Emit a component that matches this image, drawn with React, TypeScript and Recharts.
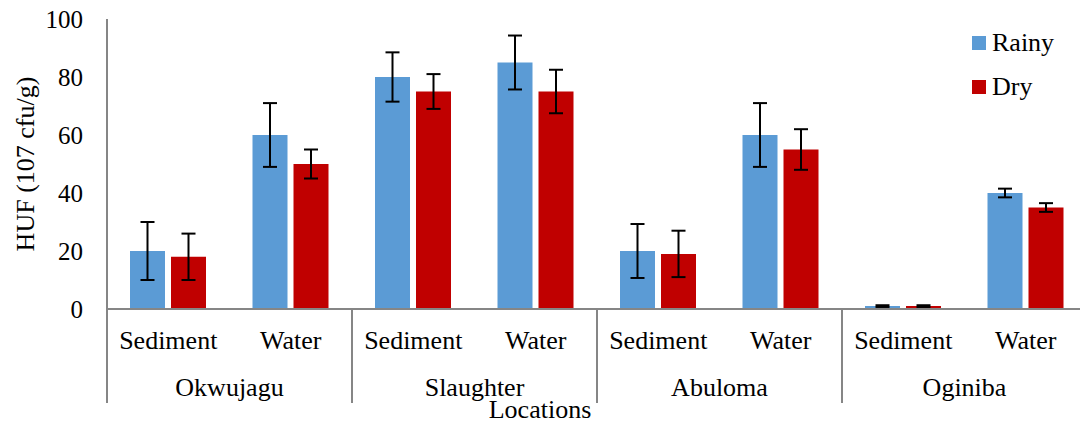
import { BarChart, Bar, XAxis, YAxis, ErrorBar, Label } from "recharts";

const samples = ["Sediment", "Water", "Sediment", "Water", "Sediment", "Water", "Sediment", "Water"];
const locations = ["Okwujagu", "Okwujagu", "Slaughter", "Slaughter", "Abuloma", "Abuloma", "Oginiba", "Oginiba"];
const rainy = [20, 60, 80, 85, 20, 60, 1, 40];
const rainyErr = [10, 11, 8.5, 9.3, 9.3, 11, 0.3, 1.5];
const dry = [18, 50, 75, 75, 19, 55, 1, 35];
const dryErr = [8, 5, 6, 7.5, 8, 7, 0.3, 1.5];
const yTicks = [0, 20, 40, 60, 80, 100];
const series = [
	{ key: "rainy", err: "rainyErr", name: "Rainy", color: "#5B9BD5" },
	{ key: "dry", err: "dryErr", name: "Dry", color: "#C00000" },
];

const data = samples.map((s, i) => ({
	sample: s,
	location: locations[i],
	rainy: rainy[i],
	rainyErr: rainyErr[i],
	dry: dry[i],
	dryErr: dryErr[i],
}));

const FONT = "'Times New Roman', 'Liberation Serif', 'DejaVu Serif', serif";
const W = 1100;
const H = 424;
const MARGIN = { top: 19, right: 13, left: 0, bottom: 0 };
const Y_W = 107;
const BAND = (W - MARGIN.left - MARGIN.right - Y_W) / samples.length;
const AXIS_Y = 309;
const SEP_END = 403;
const GRAY = "#868686";

const LocationTick = (props: any) => {
	const { x, y, payload } = props;
	if (payload.index % 2 !== 0) return null;
	const left = x - BAND / 2;
	return (
		<g>
			<line x1={left} x2={left} y1={AXIS_Y} y2={SEP_END} stroke={GRAY} strokeWidth={2} />
			<text x={x + BAND / 2} y={y} dy="0.71em" textAnchor="middle" style={{ fontFamily: FONT }} fontSize={26} fill="#000">
				{payload.value}
			</text>
		</g>
	);
};

const YTitle = () => {
	const cy = 164;
	return (
		<text
			x={25}
			y={cy}
			transform={`rotate(-90, 25, ${cy})`}
			textAnchor="middle"
			dominantBaseline="central"
			style={{ fontFamily: FONT }}
			fontSize={26}
			fill="#000"
		>
			HUF (107 cfu/g)
		</text>
	);
};

const XTitle = () => (
	<text x={540} y={418} textAnchor="middle" style={{ fontFamily: FONT }} fontSize={26} fill="#000">
		Locations
	</text>
);

export default function App() {
	return (
		<div
			style={{
				position: "fixed",
				left: 0,
				top: 0,
				width: 1080,
				height: 424,
				overflow: "hidden",
				background: "#fff",
				fontFamily: FONT,
			}}
		>
			<BarChart width={W} height={H} data={data} margin={MARGIN} barCategoryGap={23} barGap={6} style={{ fontFamily: FONT }}>
				<YAxis
					width={Y_W}
					domain={[0, 100]}
					ticks={yTicks}
					tickLine={false}
					tickSize={0}
					tickMargin={24}
					axisLine={{ stroke: GRAY, strokeWidth: 2 }}
					tick={{ style: { fontFamily: FONT }, fontSize: 25, fill: "#000" }}
				>
					<Label content={<YTitle />} />
				</YAxis>
				<XAxis
					dataKey="sample"
					interval={0}
					height={50}
					tickLine={false}
					tickSize={0}
					tickMargin={22}
					axisLine={{ stroke: GRAY, strokeWidth: 2 }}
					tick={{ style: { fontFamily: FONT }, fontSize: 26, fill: "#000" }}
				/>
				<XAxis
					xAxisId="loc"
					dataKey="location"
					interval={0}
					height={65}
					axisLine={false}
					tickLine={false}
					tickSize={0}
					tickMargin={19}
					tick={<LocationTick />}
				>
					<Label content={<XTitle />} />
				</XAxis>
				{series.map((s) => (
					<Bar key={s.key} dataKey={s.key} name={s.name} fill={s.color} isAnimationActive={false}>
						<ErrorBar dataKey={s.err} width={7} stroke="#000" strokeWidth={2} />
					</Bar>
				))}
			</BarChart>
			<div style={{ position: "absolute", left: 972, top: 21, fontSize: 26, color: "#000" }}>
				{series.map((s) => (
					<div key={s.name} style={{ display: "flex", alignItems: "center", height: 44 }}>
						<span style={{ width: 14, height: 14, background: s.color, marginRight: 6, display: "inline-block" }} />
						{s.name}
					</div>
				))}
			</div>
		</div>
	);
}
